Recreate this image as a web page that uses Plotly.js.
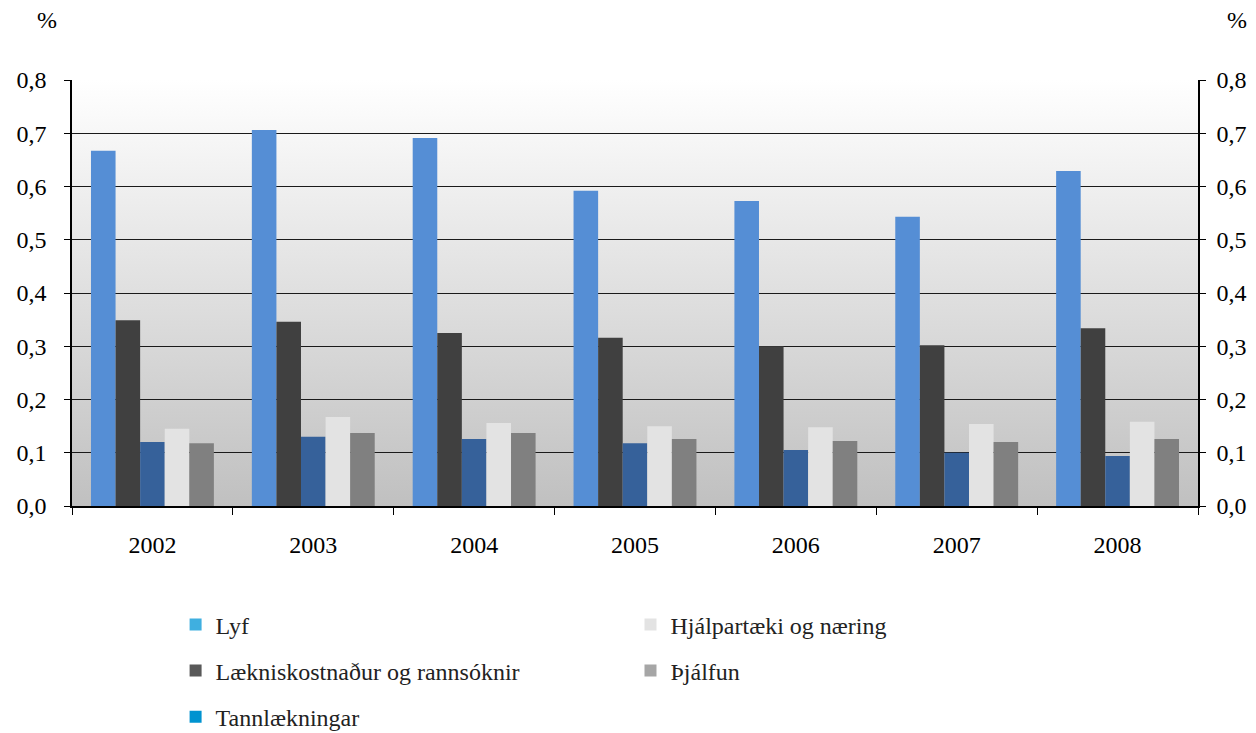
<!DOCTYPE html>
<html>
<head>
<meta charset="utf-8">
<script src="https://cdn.plot.ly/plotly-3.0.1.min.js"></script>
<style>html,body{margin:0;padding:0;background:#fff}#chart{width:1256px;height:733px}</style>
</head>
<body>
<div id="chart"></div>
<script>
const years = ['2002','2003','2004','2005','2006','2007','2008'];
const seriesNames = ['Lyf','Lækniskostnaður og rannsóknir','Tannlækningar','Hjálpartæki og næring','Þjálfun'];
const lyf = [0.667,0.706,0.691,0.592,0.573,0.543,0.629];
const laekn = [0.349,0.346,0.325,0.316,0.300,0.302,0.334];
const tann = [0.120,0.130,0.126,0.118,0.105,0.100,0.094];
const hjalp = [0.145,0.167,0.156,0.150,0.148,0.154,0.158];
const thjalf = [0.118,0.137,0.137,0.126,0.122,0.120,0.126];
const yTicks = [0,0.1,0.2,0.3,0.4,0.5,0.6,0.7,0.8];

const barColors = ['#558ED5','#404040','#36619A','#E3E3E3','#808080'];
const swatchColors = ['#3FAFE0','#595959','#0093D0','#E3E3E3','#A6A6A6'];
const values = [lyf, laekn, tann, hjalp, thjalf];

const FONT = '"Liberation Serif", "Times New Roman", Times, "DejaVu Serif", serif';

const traces = [];
values.forEach((v,i)=>{
  traces.push({type:'bar', x:years, y:v, name:seriesNames[i], marker:{color:barColors[i], line:{width:0}}, showlegend:false, hoverinfo:'y'});
});
const legendAssign = ['legend','legend','legend','legend2','legend2'];
values.forEach((v,i)=>{
  traces.push({type:'bar', x:[null], y:[null], name:seriesNames[i], xaxis:'x2', yaxis:'y2',
    marker:{color:swatchColors[i]}, showlegend:true, legend:legendAssign[i], legendgroup:'g'+i});
});

const gradSvg = '<svg xmlns="http://www.w3.org/2000/svg" width="100" height="100" preserveAspectRatio="none"><defs><linearGradient id="g" x1="0" y1="0" x2="0" y2="1"><stop offset="0" stop-color="#FFFFFF"/><stop offset="1" stop-color="#C0C0C0"/></linearGradient></defs><rect width="100" height="100" fill="url(#g)"/></svg>';
const gradUri = 'data:image/svg+xml;charset=utf-8,' + encodeURIComponent(gradSvg);

const legendCommon = {
  orientation:'v', traceorder:'grouped', tracegroupgap:12,
  font:{family:FONT, size:24, color:'#222'}, bgcolor:'rgba(0,0,0,0)',
  xanchor:'left', yanchor:'top', itemclick:false
};

const tickFont = {family:FONT, size:24, color:'#000'};

const layout = {
  width:1256, height:733,
  margin:{l:72, r:58, t:80, b:227, autoexpand:false},
  paper_bgcolor:'#FFFFFF',
  plot_bgcolor:'rgba(0,0,0,0)',
  separators:', ',
  barmode:'group', bargap:0.236, bargroupgap:0,
  font:{family:FONT, size:24, color:'#000'},
  images:[{source:gradUri, xref:'paper', yref:'paper', x:0, y:1, sizex:1, sizey:1, sizing:'stretch', layer:'below', xanchor:'left', yanchor:'top'}],
  xaxis:{type:'category', showline:true, linecolor:'#000', linewidth:1.5, ticks:'outside', ticklen:7, tickcolor:'#000',
    tickson:'boundaries', showgrid:false, tickfont:tickFont, ticklabelstandoff:16, fixedrange:true},
  yaxis:{range:[0,0.8], tickvals:yTicks, tickformat:'.1f', showline:true, linecolor:'#000', linewidth:1.5,
    ticks:'outside', ticklen:6, tickcolor:'#000', showgrid:true, gridcolor:'#1a1a1a', gridwidth:1, zeroline:false,
    tickfont:tickFont, ticklabelstandoff:13, fixedrange:true},
  xaxis2:{overlaying:'x', visible:false, fixedrange:true},
  yaxis2:{overlaying:'y', anchor:'x2', side:'right', range:[0,0.8], tickvals:yTicks, tickformat:'.1f', showline:true, linecolor:'#000', linewidth:1.5,
    ticks:'outside', ticklen:6, tickcolor:'#000', showgrid:false, zeroline:false,
    tickfont:tickFont, ticklabelstandoff:6, fixedrange:true},
  legend:Object.assign({}, legendCommon, {x:0.092, y:-0.226}),
  legend2:Object.assign({}, legendCommon, {x:0.496, y:-0.226}),
  annotations:[
    {text:'%', xref:'paper', yref:'paper', x:-0.022, y:1.14, showarrow:false, font:{family:FONT, size:24, color:'#000'}, xanchor:'center', yanchor:'middle'},
    {text:'%', xref:'paper', yref:'paper', x:1.035, y:1.14, showarrow:false, font:{family:FONT, size:24, color:'#000'}, xanchor:'center', yanchor:'middle'}
  ],
  showlegend:true
};

Plotly.newPlot('chart', traces, layout, {displayModeBar:false});
</script>
</body>
</html>
